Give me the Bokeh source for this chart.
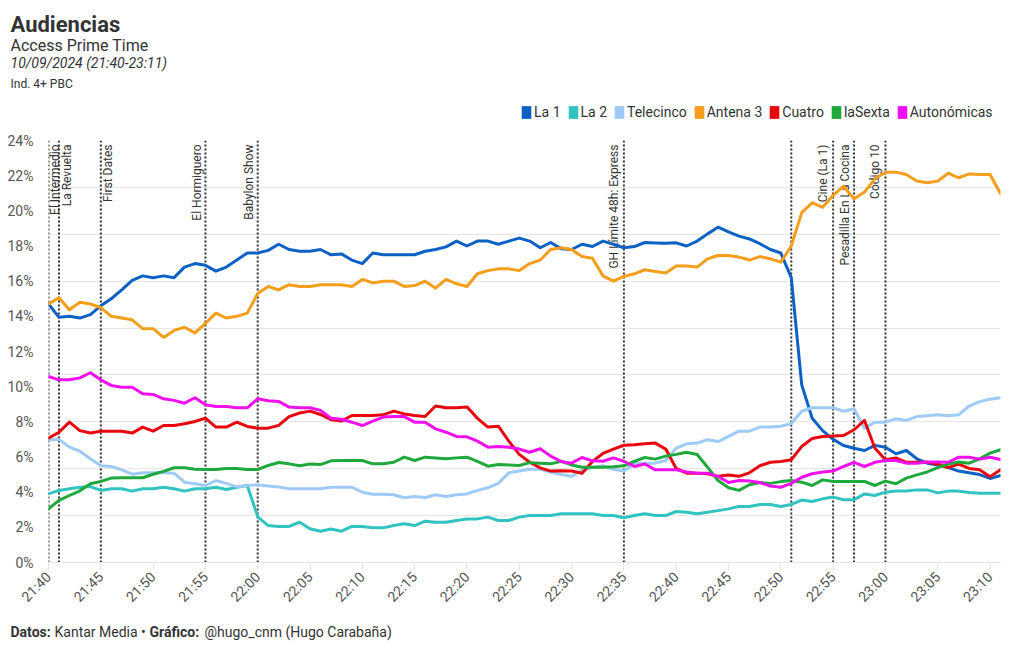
import math
from bokeh.plotting import figure
from bokeh.layouts import column
from bokeh.models import Label, Legend, LegendItem, FixedTicker, ColumnDataSource
from bokeh.core.properties import value
from bokeh.embed import file_html
from bokeh.resources import INLINE

# ---------------- data (audience share %, one reading per minute 21:40 -> 23:11) -------------
start_time = "21:40"
time_labels = [f"{(21*60+40+i)//60:02d}:{(21*60+40+i)%60:02d}" for i in range(92)]

la1 = [14.7, 13.95, 14.0, 13.9, 14.1, 14.6, 15.0, 15.5, 16.05, 16.3,
       16.2, 16.3, 16.2, 16.8, 17.0, 16.9, 16.57, 16.8, 17.2, 17.6,
       17.6, 17.75, 18.1, 17.8, 17.7, 17.7, 17.8, 17.5, 17.55, 17.2,
       17.0, 17.6, 17.5, 17.5, 17.5, 17.5, 17.7, 17.8, 17.95, 18.28,
       18.0, 18.28, 18.28, 18.1, 18.28, 18.45, 18.28, 17.9, 18.2, 17.85,
       17.8, 18.1, 17.97, 18.28, 18.1, 17.9, 17.97, 18.2, 18.17, 18.15,
       18.18, 18.0, 18.28, 18.69, 19.07, 18.8, 18.56, 18.4, 18.13, 17.8,
       17.6, 16.2, 10.1, 8.2, 7.5, 7.0, 6.65, 6.5, 6.37, 6.66,
       6.55, 6.18, 6.37, 5.9, 5.65, 5.55, 5.4, 5.2, 5.1, 5.0,
       4.78, 4.95]
la2 = [3.9, 4.1, 4.19, 4.28, 4.32, 4.1, 4.19, 4.19, 4.06, 4.19,
       4.19, 4.28, 4.19, 4.06, 4.19, 4.19, 4.28, 4.15, 4.28, 4.38,
       2.6, 2.1, 2.05, 2.05, 2.29, 1.92, 1.78, 1.9, 1.78, 2.05,
       2.05, 1.97, 1.97, 2.1, 2.2, 2.1, 2.35, 2.29, 2.29, 2.39,
       2.48, 2.48, 2.58, 2.39, 2.39, 2.58, 2.67, 2.67, 2.67, 2.77,
       2.77, 2.77, 2.77, 2.67, 2.67, 2.54, 2.67, 2.77, 2.67, 2.67,
       2.9, 2.86, 2.77, 2.86, 2.95, 3.05, 3.19, 3.19, 3.3, 3.3,
       3.19, 3.3, 3.55, 3.47, 3.62, 3.72, 3.57, 3.57, 3.9, 3.81,
       4.0, 4.06, 4.06, 4.13, 4.13, 3.96, 4.06, 4.06, 3.98, 3.94,
       3.94, 3.94]
telecinco = [6.98, 7.0, 6.56, 6.33, 5.9, 5.5, 5.46, 5.27, 5.02, 5.1,
             5.1, 5.1, 5.08, 4.57, 4.48, 4.38, 4.66, 4.5, 4.3, 4.38,
             4.42, 4.35, 4.3, 4.2, 4.2, 4.19, 4.2, 4.28, 4.28, 4.28,
             4.0, 3.88, 3.88, 3.85, 3.68, 3.75, 3.7, 3.85, 3.75, 3.85,
             3.9, 4.1, 4.25, 4.5, 5.1, 5.2, 5.3, 5.3, 5.15, 5.0,
             4.9, 5.25, 5.4, 5.5, 5.3, 5.2, 5.61, 5.65, 5.65, 5.8,
             6.5, 6.75, 6.79, 6.98, 6.88, 7.17, 7.47, 7.47, 7.7, 7.7,
             7.75, 7.9, 8.6, 8.8, 8.8, 8.8, 8.6, 8.74, 7.64, 7.98,
             7.98, 8.17, 8.08, 8.3, 8.35, 8.4, 8.35, 8.4, 8.9, 9.15,
             9.28, 9.37]
antena3 = [14.7, 15.06, 14.37, 14.8, 14.7, 14.5, 14.0, 13.9, 13.8, 13.3,
           13.3, 12.8, 13.2, 13.38, 13.06, 13.6, 14.18, 13.9, 14.0, 14.18,
           15.3, 15.7, 15.5, 15.8, 15.7, 15.7, 15.8, 15.8, 15.8, 15.7,
           16.1, 15.9, 16.0, 16.0, 15.7, 15.75, 16.0, 15.6, 16.1, 15.85,
           15.7, 16.42, 16.6, 16.7, 16.7, 16.6, 17.0, 17.2, 17.8, 17.9,
           17.8, 17.4, 17.3, 16.3, 16.0, 16.27, 16.42, 16.65, 16.55, 16.46,
           16.86, 16.86, 16.8, 17.27, 17.46, 17.46, 17.37, 17.2, 17.4, 17.27,
           17.08, 18.0, 19.9, 20.46, 20.2, 20.88, 21.4, 20.69, 21.07, 21.82,
           22.2, 22.2, 22.07, 21.7, 21.6, 21.69, 22.14, 21.88, 22.1, 22.07,
           22.07, 20.97]
cuatro = [7.07, 7.41, 7.98, 7.5, 7.37, 7.47, 7.47, 7.47, 7.36, 7.7,
          7.47, 7.79, 7.79, 7.89, 8.02, 8.21, 7.7, 7.7, 7.98, 7.74,
          7.64, 7.64, 7.8, 8.3, 8.5, 8.61, 8.42, 8.12, 8.04, 8.36,
          8.36, 8.36, 8.4, 8.61, 8.45, 8.36, 8.3, 8.9, 8.8, 8.8,
          8.85, 8.2, 7.7, 7.75, 6.9, 6.15, 5.7, 5.38, 5.2, 5.22,
          5.2, 5.08, 5.75, 6.2, 6.45, 6.67, 6.7, 6.75, 6.79, 6.45,
          5.35, 5.08, 5.08, 5.05, 4.9, 4.98, 4.9, 5.1, 5.5, 5.7,
          5.75, 5.84, 6.6, 7.05, 7.17, 7.2, 7.22, 7.55, 8.08, 6.5,
          5.84, 5.95, 5.7, 5.7, 5.7, 5.6, 5.4, 5.6, 5.35, 5.27,
          4.88, 5.27]
lasexta = [3.05, 3.53, 3.81, 4.08, 4.48, 4.61, 4.8, 4.82, 4.82, 4.82,
           5.02, 5.18, 5.39, 5.39, 5.3, 5.29, 5.29, 5.35, 5.35, 5.29,
           5.29, 5.52, 5.69, 5.61, 5.5, 5.6, 5.57, 5.78, 5.8, 5.8,
           5.8, 5.61, 5.61, 5.7, 5.99, 5.8, 5.99, 5.95, 5.9, 5.95,
           5.99, 5.75, 5.48, 5.57, 5.55, 5.52, 5.68, 5.65, 5.61, 5.75,
           5.55, 5.42, 5.42, 5.42, 5.45, 5.5, 5.75, 5.97, 5.88, 6.05,
           6.15, 6.27, 6.14, 5.42, 4.66, 4.25, 4.1, 4.42, 4.55, 4.5,
           4.6, 4.66, 4.57, 4.38, 4.7, 4.61, 4.61, 4.61, 4.61, 4.38,
           4.63, 4.48, 4.8, 4.98, 5.15, 5.4, 5.6, 5.72, 5.65, 5.9,
           6.22, 6.41]
autonomicas = [10.58, 10.39, 10.39, 10.5, 10.79, 10.39, 10.07, 9.97, 9.97, 9.6,
               9.56, 9.31, 9.22, 9.06, 9.37, 8.97, 8.87, 8.87, 8.8, 8.8,
               9.31, 9.2, 9.16, 8.84, 8.8, 8.8, 8.65, 8.2, 8.15, 7.98,
               7.79, 8.04, 8.27, 8.3, 8.3, 7.98, 7.98, 7.6, 7.41, 7.17,
               7.15, 6.9, 6.56, 6.6, 6.56, 6.45, 6.27, 6.47, 6.05, 5.75,
               5.65, 5.97, 5.78, 5.76, 5.95, 5.76, 5.46, 5.6, 5.27, 5.27,
               5.27, 5.15, 5.08, 5.08, 4.9, 4.55, 4.66, 4.64, 4.55, 4.35,
               4.28, 4.5, 4.85, 5.05, 5.15, 5.2, 5.46, 5.7, 5.46, 5.7,
               5.8, 5.8, 5.65, 5.65, 5.72, 5.72, 5.7, 5.99, 5.99, 5.88,
               5.99, 5.86]

series_names = ["La 1", "La 2", "Telecinco", "Antena 3", "Cuatro", "laSexta", "Autonómicas"]
series_values = [la1, la2, telecinco, antena3, cuatro, lasexta, autonomicas]

x_tick_labels = ["21:40", "21:45", "21:50", "21:55", "22:00", "22:05", "22:10", "22:15",
                 "22:20", "22:25", "22:30", "22:35", "22:40", "22:45", "22:50", "22:55",
                 "23:00", "23:05", "23:10"]
y_tick_values = [0, 2, 4, 6, 8, 10, 12, 14, 16, 18, 20, 22, 24]
y_tick_labels = [f"{v}%" for v in y_tick_values]

program_line_times = ["21:40", "21:41", "21:45", "21:55", "22:00", "22:35",
                      "22:51", "22:55", "22:57", "23:00"]
program_label_times = ["21:40", "21:41", "21:45", "21:55", "22:00", "22:35",
                       "22:55", "22:57", "23:00"]
program_labels = ["El Intermedio", "La Revuelta", "First Dates", "El Hormiguero",
                  "Babylon Show", "GH Límite 48h: Express", "Cine (La 1)",
                  "Pesadilla En La Cocina", "Código 10"]

title_text = "Audiencias"
subtitle_text = "Access Prime Time"
date_text = "10/09/2024 (21:40-23:11)"
target_text = "Ind. 4+ PBC"
footer_parts = [("Datos:", "bold"), ("Kantar Media •", "normal"),
                ("Gráfico:", "bold"), ("@hugo_cnm (Hugo Carabaña)", "normal")]

# ---------------- styles ----------------
series_colors = ["#0b62c4", "#31c3c1", "#9ecbf6", "#f59e1b", "#e8070e", "#1fa83b", "#f010ee"]
label_dx = [6, 8, 7, -8, -9, -10, -10, -9, -10]
footer_x = [10, 54, 149, 204]
FONT = "Roboto"
TXT = "#333333"
W = 1020


def to_min(s):
    h, m = map(int, s.split(":"))
    h0, m0 = map(int, start_time.split(":"))
    return (h * 60 + m) - (h0 * 60 + m0)


def no_align(f):
    if hasattr(f, "frame_align"):
        f.frame_align = False


def blank_fig(height):
    f = figure(width=W, height=height, x_range=(0, 1), y_range=(0, 1),
               x_axis_type=None, y_axis_type=None, output_backend="svg",
               toolbar_location=None, min_border=0)
    f.outline_line_color = None
    f.grid.grid_line_color = None
    no_align(f)
    return f


def add_label(f, x, y, text, size, style="normal"):
    f.add_layout(Label(x=x, y=y, x_units="screen", y_units="screen", text=text,
                       text_font=FONT, text_font_size=size, text_font_style=style,
                       text_color=TXT, text_baseline="alphabetic", text_align="left"))


# ---------------- header: titles + legend ----------------
HEAD_H = 128
head = blank_fig(HEAD_H)
add_label(head, 10, HEAD_H - 24, title_text, "22px", "bold")
add_label(head, 10, HEAD_H - 45, subtitle_text, "16px")
add_label(head, 10, HEAD_H - 62, date_text, "14px", "italic")
add_label(head, 10, HEAD_H - 83, target_text, "12px")

legend_items = []
for name, color in zip(series_names, series_colors):
    dummy = head.rect(x=[-10], y=[-10], width=1, height=1, fill_color=color, line_color=None)
    legend_items.append(LegendItem(label=name, renderers=[dummy]))
legend = Legend(items=legend_items, orientation="horizontal", location=(520, HEAD_H - 120),
                glyph_width=12, glyph_height=16, label_height=16, label_standoff=2,
                spacing=6, padding=0, margin=0, border_line_color=None,
                background_fill_alpha=0, label_text_font=FONT,
                label_text_font_size="14px", label_text_color=TXT)
head.add_layout(legend)

# ---------------- main chart ----------------
minutes = [to_min(t) for t in time_labels]

p = figure(width=W, height=487, x_range=(0, 91), y_range=(0, 24),
           output_backend="svg", toolbar_location=None,
           min_border_left=48, min_border_right=20, min_border_top=12, min_border_bottom=53)
p.outline_line_color = None
no_align(p)

p.xgrid.grid_line_color = None
p.ygrid.ticker = FixedTicker(ticks=[24 * i / 9 for i in range(10)])
p.ygrid.grid_line_color = "#e6e6e6"
p.ygrid.grid_line_width = 1

p.yaxis.ticker = FixedTicker(ticks=y_tick_values)
p.yaxis.major_label_overrides = {v: l for v, l in zip(y_tick_values, y_tick_labels)}
p.yaxis.axis_line_color = None
p.yaxis.major_tick_line_color = None
p.yaxis.minor_tick_line_color = None
p.yaxis.major_label_standoff = 9
p.yaxis.major_label_text_font = FONT
p.yaxis.major_label_text_font_size = "14px"
p.yaxis.major_label_text_color = "#555555"

p.xaxis.ticker = FixedTicker(ticks=[to_min(s) for s in x_tick_labels])
p.xaxis.major_label_overrides = {to_min(s): s for s in x_tick_labels}
p.xaxis.major_label_orientation = math.pi / 4
p.xaxis.axis_line_color = "#e6e6e6"
p.xaxis.major_tick_line_color = "#e6e6e6"
p.xaxis.major_tick_in = 0
p.xaxis.major_tick_out = 8
p.xaxis.minor_tick_line_color = None
p.xaxis.major_label_standoff = 4
p.xaxis.major_label_text_font = FONT
p.xaxis.major_label_text_font_size = "14px"
p.xaxis.major_label_text_color = "#555555"

line_x = [to_min(t) for t in program_line_times]
p.segment(x0=line_x, y0=[0] * len(line_x), x1=line_x, y1=[24] * len(line_x),
          line_color="#333333", line_width=2, line_dash="2 2")

lab_src = ColumnDataSource(dict(x=[to_min(t) for t in program_label_times],
                                y=[24] * len(program_labels),
                                text=program_labels, dx=label_dx))
p.text(x="x", y="y", text="text", source=lab_src, angle=math.pi / 2,
       x_offset="dx", y_offset=4, text_align="right", text_baseline="middle",
       text_font=value(FONT), text_font_size="12px", text_color=TXT)

for vals, color in zip(series_values, series_colors):
    p.line(minutes, vals, line_color=color, line_width=3, line_join="round", line_cap="round")

# ---------------- footer ----------------
FOOT_H = 33
foot = blank_fig(FOOT_H)
for (txt, style), fx in zip(footer_parts, footer_x):
    add_label(foot, fx, FOOT_H - 16, txt, "14px", style)

layout = column(head, p, foot, spacing=0)
open("out.html", "w", encoding="utf-8").write(file_html(layout, INLINE))
